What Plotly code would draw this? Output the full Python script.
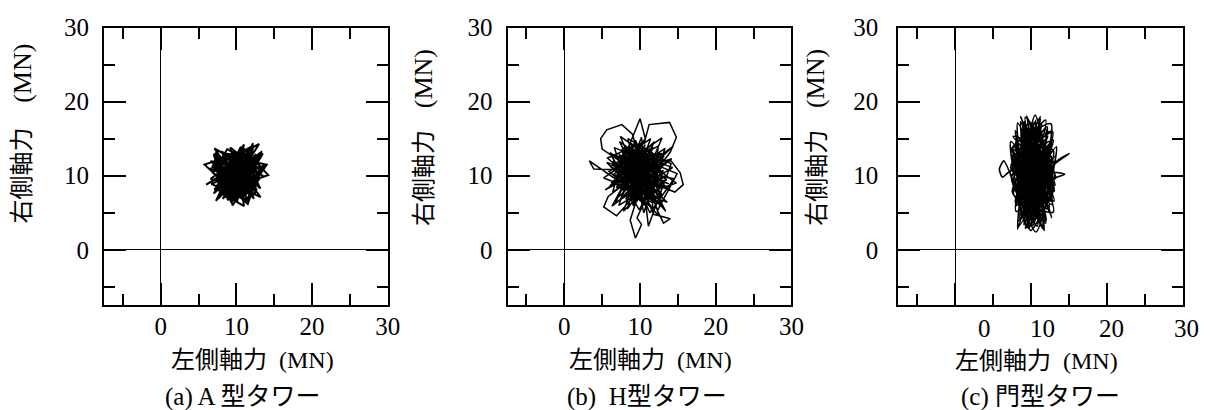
import plotly.graph_objects as go

# ---------------- data ----------------
# (a) A-type tower : left axial force vs right axial force (MN)
a_x = [10.2, 12.8, 8.1, 7.2, 12.5, 11.9, 7.6, 13.1, 9.0, 8.4, 12.9, 7.1, 11.4, 13.4, 8.8, 6.9, 10.9, 12.6, 7.8, 9.6,
       13.2, 7.4, 10.1, 12.1, 6.6, 11.8, 10.6, 7.9, 13.7, 9.3, 7.7, 12.9, 8.6, 11.2, 8.2, 13.0, 6.8, 10.5, 12.2, 7.3,
       9.8, 13.6, 8.0, 11.6, 6.7, 12.4, 9.2, 10.8, 7.5, 13.3, 8.9, 7.0, 12.7, 10.3, 5.8, 11.5, 13.1, 8.3, 9.7, 12.0,
       7.6, 11.0, 14.2, 8.5, 7.2, 12.3, 10.7, 6.0, 13.5, 9.5, 8.1, 12.6, 7.1, 11.3, 14.0, 10.0, 7.3, 12.3, 6.5, 11.7,
       9.0, 13.2, 8.4, 10.9, 7.0, 12.5, 9.9, 6.6, 13.0, 11.1, 8.7, 11.0, 10.4, 7.8, 12.0, 9.4, 11.3, 8.9, 10.6,
       8.0, 12.2, 9.0, 11.5, 7.3, 12.9, 9.4, 10.8, 7.9, 12.3, 8.4, 11.9, 9.1, 10.3, 7.6, 13.0, 8.8, 11.1, 9.6, 12.7,
       7.4, 10.6, 11.4, 8.2, 12.1, 9.9, 10.2, 8.6, 11.8, 9.2, 12.4, 7.9, 10.5, 11.0, 8.7, 12.8, 9.3, 11.6, 8.3, 10.8,
       7.7, 12.0, 9.7, 11.2, 8.5, 10.1, 9.5, 11.4, 8.9, 10.7, 9.0, 11.9, 7.5, 12.6, 8.0, 10.4,
       13.0, 8.6, 12.2, 9.4, 11.0, 7.5, 13.4, 9.9]
a_y = [9.8, 11.9, 7.6, 11.8, 7.4, 13.2, 9.1, 9.6, 6.9, 13.0, 12.4, 8.2, 6.8, 10.8, 13.6, 10.4, 7.0, 12.9, 7.3, 13.3,
       8.3, 12.6, 6.6, 13.5, 9.6, 7.9, 13.9, 8.8, 11.4, 6.4, 12.2, 9.0, 10.9, 12.7, 6.9, 12.1, 11.3, 7.4, 13.7, 7.9,
       12.9, 9.9, 13.3, 6.5, 8.9, 11.2, 13.8, 7.8, 10.1, 12.8, 6.7, 12.9, 8.0, 13.1, 11.5, 6.2, 11.0, 12.4, 7.1, 12.0,
       6.9, 13.6, 10.1, 8.0, 13.1, 6.9, 11.8, 8.8, 13.0, 6.0, 11.6, 10.4, 13.7, 7.5, 11.5, 12.3, 6.6, 14.1, 10.9, 9.2,
       13.0, 7.1, 9.5, 14.0, 7.6, 12.6, 8.3, 12.0, 8.6, 13.0, 7.3, 5.9, 10.0, 10.6, 8.6, 11.4, 10.5, 9.0, 9.3,
       12.5, 8.0, 7.2, 12.9, 9.5, 11.0, 13.1, 6.9, 11.0, 12.3, 7.8, 10.1, 12.2, 7.3, 12.0, 9.4, 8.4, 12.2, 6.8, 11.7,
       8.6, 13.2, 8.2, 10.2, 9.4, 12.6, 7.9, 11.8, 11.3, 8.0, 10.6, 9.7, 12.4, 7.6, 12.9, 8.9, 10.6, 12.6, 8.6, 11.0,
       10.8, 7.3, 12.0, 9.0, 9.9, 11.5, 8.9, 11.7, 10.3, 8.5, 11.0, 12.5, 11.4, 9.7, 7.4, 12.8,
       14.3, 7.0, 14.4, 6.6, 14.2, 8.4, 13.3, 10.2]

# (b) H-type tower
b_x = [9.8, 13.2, 6.4, 8.0, 13.9, 7.2, 11.6, 12.4, 5.9, 11.0, 10.2, 6.8, 14.3, 7.6, 12.1, 8.7, 13.5, 6.2, 10.9, 8.3,
       14.0, 14.8, 13.9, 11.2, 10.6, 5.7, 12.8, 9.4, 6.9, 13.1, 7.8, 11.4, 6.1, 14.6, 15.7, 15.3, 14.1, 8.9, 10.5, 13.3,
       5.4, 12.2, 7.4, 11.8, 14.0, 13.1, 12.3, 14.9, 6.6, 9.1, 12.9, 5.2, 13.6, 8.5, 10.7, 6.3, 14.2, 7.1, 11.3, 9.0,
       7.6, 5.6, 4.8, 5.0, 7.0, 13.8, 5.6, 12.5, 10.1, 7.0, 14.4, 8.2, 6.0, 12.0, 9.6, 10.2, 9.4, 8.7, 11.7, 6.5,
       13.0, 8.8, 10.4, 7.3, 14.8, 9.3, 11.1, 5.8, 5.2, 6.9, 8.4, 12.6, 8.1, 10.6, 13.4, 7.7, 10.0, 10.7, 6.7, 3.3,
       3.9, 6.8, 9.9, 12.3, 8.6, 10.0, 13.7, 7.5, 11.5, 9.2, 6.4, 12.7, 10.3, 8.4, 14.1, 11.1, 10.8, 7.9, 12.9, 9.0,
       11.0, 8.0, 12.0, 9.7, 7.2, 13.5, 8.6, 11.9, 6.0, 10.5, 9.5, 11.6, 8.3, 10.9, 9.1, 12.4, 7.7, 11.3, 14.5, 10.0,
       7.0, 12.8, 8.4, 11.6, 6.8, 13.2, 9.1, 10.8, 7.4, 12.9, 6.5, 11.2, 9.3, 13.0, 7.2, 10.9, 8.0, 12.5, 8.8, 11.7,
       6.9, 13.4, 9.6, 10.3, 7.7, 12.2, 8.3, 11.4, 9.0, 12.6, 7.5, 10.6, 11.0, 8.1, 12.0, 9.5, 7.9, 13.1, 8.6, 11.3,
       10.0, 9.2, 12.3, 8.0, 10.7, 9.4, 11.8, 8.7, 10.4, 9.7, 11.6, 8.5, 12.1, 7.3, 10.2, 9.0, 11.5, 8.2, 12.7, 6.7,
       10.8, 9.9]
b_y = [10.0, 12.6, 7.8, 14.1, 8.0, 12.9, 5.6, 14.0, 10.6, 6.2, 15.2, 6.4, 11.1, 13.6, 6.9, 14.5, 9.4, 9.0, 13.4, 5.5,
       13.2, 15.2, 17.2, 16.9, 14.6, 12.4, 5.9, 14.8, 8.4, 10.7, 5.2, 15.0, 11.2, 7.8, 8.8, 10.4, 12.0, 12.6, 5.0, 13.7,
       8.1, 11.8, 15.3, 4.8, 4.2, 3.6, 5.3, 10.3, 13.8, 6.0, 15.1, 9.7, 6.4, 11.2, 14.2, 5.9, 12.3, 10.0, 7.4, 15.6,
       16.9, 16.2, 15.0, 13.6, 12.2, 8.9, 11.8, 4.6, 12.8, 7.0, 14.0, 9.3, 13.1, 9.6, 4.3, 3.4, 1.6, 4.0, 13.9, 10.2,
       7.3, 13.0, 8.2, 14.6, 9.0, 7.2, 11.4, 7.2, 5.8, 4.6, 6.3, 13.1, 6.8, 10.7, 5.2, 11.9, 17.7, 15.0, 9.6, 12.0,
       10.9, 10.8, 5.4, 10.2, 14.0, 8.7, 12.0, 8.0, 12.3, 9.8, 12.0, 8.3, 6.8, 15.0, 11.6, 3.2, 5.9, 9.0, 11.5, 11.7,
       8.8, 12.2, 6.2, 13.6, 6.0, 10.0, 8.2, 14.6, 8.6, 11.9, 7.8, 9.9, 10.6, 12.6, 8.6, 12.9, 13.2, 5.0, 9.6, 10.5,
       11.5, 7.6, 13.5, 6.4, 8.9, 11.6, 5.9, 13.8, 6.8, 13.0, 11.4, 7.0, 14.2, 9.0, 9.4, 5.8, 12.4, 11.2, 6.6, 12.8,
       10.4, 8.5, 13.2, 6.3, 12.9, 7.0, 8.8, 13.4, 7.6, 10.0, 10.9, 12.1, 7.9, 11.0, 12.6, 6.5, 13.9, 10.4, 7.4, 11.0,
       14.0, 8.9, 8.8, 10.0, 9.2, 11.9, 10.8, 9.6, 13.0, 7.0, 9.0, 12.8, 11.9, 8.3, 10.0, 12.4, 6.8, 7.6, 12.2, 12.6,
       8.6, 11.0]

# (c) portal-type tower
c_x = [10.1, 8.8, 12.0, 7.7, 12.6, 9.6, 10.8, 7.4, 12.4, 8.6, 11.4, 7.9, 13.0, 9.2, 11.9, 7.5, 12.7, 10.4, 8.3, 12.2,
       7.6, 12.9, 9.9, 8.7, 11.6, 7.2, 12.6, 9.0, 11.2, 7.8, 13.2, 9.7, 8.2, 12.5, 7.5, 11.5, 10.0, 8.0, 13.1, 8.9,
       11.8, 7.6, 12.1, 9.4, 7.3, 12.8, 10.5, 8.5, 13.3, 10.6, 6.4, 5.8, 6.2, 7.2, 12.3, 9.1, 11.0, 7.7, 12.9, 8.6,
       11.6, 7.4, 12.6, 9.8, 8.1, 13.1, 9.3, 11.1, 7.5, 12.0, 8.4, 13.4, 15.0, 12.9, 10.2, 7.9, 12.7, 9.5, 8.2, 11.9,
       7.3, 13.0, 9.1, 11.3, 7.8, 13.2, 9.6, 8.7, 12.5, 8.0, 14.4, 12.1, 10.3, 8.6, 12.4, 7.5, 12.8, 9.2, 10.8, 8.1,
       13.0, 10.0, 8.0, 12.2, 9.4, 11.5, 7.4, 12.6, 9.0, 11.2, 8.5, 12.4, 8.2, 11.7, 9.7, 7.6, 12.9, 9.5, 10.7, 9.9,
       11.8, 8.4, 11.4, 9.2, 10.9, 9.6, 10.6, 8.8, 12.0, 10.2, 11.0, 9.3, 10.4, 9.8, 11.5, 8.7, 11.1, 10.1,
       8.6, 12.1, 8.1, 12.6, 9.4, 11.1, 7.8, 12.5, 10.2, 8.9, 12.4, 7.7, 12.8, 9.6, 10.6, 8.0, 12.2, 8.7, 13.0, 9.8,
       11.2, 7.6, 12.5, 9.3, 10.9, 8.2, 12.7, 10.0, 9.1, 11.8, 7.9, 12.9, 9.5, 11.4, 8.3, 12.3, 9.9, 10.7, 8.8, 12.0,
       10.3, 9.2, 11.7, 8.4, 12.6, 9.6, 11.3, 9.0, 11.9, 10.4, 8.5, 12.8, 9.4, 11.1, 9.7, 11.6, 8.9, 10.8, 10.2, 11.5,
       9.5, 10.6, 10.0, 11.2, 9.1, 10.5]
c_y = [10.0, 16.8, 4.0, 13.5, 8.2, 17.6, 3.2, 9.8, 14.6, 4.6, 16.9, 6.4, 11.2, 17.9, 3.6, 11.9, 6.1, 17.2, 3.9, 13.1,
       15.3, 9.0, 2.6, 15.9, 5.1, 10.4, 15.8, 3.4, 18.0, 8.0, 12.6, 4.3, 17.1, 7.0, 12.8, 2.9, 16.2, 5.2, 10.1, 14.2,
       3.9, 9.2, 16.6, 3.0, 14.6, 7.6, 18.2, 6.8, 13.9, 2.4, 12.0, 10.9, 9.8, 10.6, 12.2, 4.8, 16.4, 7.4, 5.1, 18.0,
       8.9, 13.6, 17.0, 3.3, 11.4, 8.7, 16.6, 4.2, 7.9, 15.0, 3.2, 12.0, 13.0, 11.4, 6.0, 16.1, 4.3, 13.4, 2.8, 17.5,
       11.1, 6.6, 15.2, 3.6, 12.5, 9.6, 17.1, 5.6, 14.0, 8.6, 10.2, 10.4, 3.8, 17.3, 5.8, 12.3, 16.0, 2.9, 15.4, 6.0,
       11.8, 4.8, 14.8, 8.0, 18.1, 5.2, 10.0, 13.3, 7.2, 17.6, 4.2, 9.8, 13.2, 2.6, 15.6, 8.9, 14.8, 5.9, 13.0, 8.4,
       12.4, 11.0, 6.9, 12.0, 9.1, 14.3, 5.6, 9.5, 11.1, 16.7, 10.6, 10.2, 12.2, 7.1, 14.1, 13.9, 8.0, 11.5,
       15.5, 5.5, 11.0, 12.5, 4.0, 17.0, 8.6, 14.2, 3.3, 16.4, 7.1, 12.1, 10.6, 2.9, 17.5, 5.9, 15.3, 9.2, 7.9, 16.0,
       4.4, 13.8, 11.7, 6.4, 14.9, 10.0, 9.1, 5.1, 17.3, 6.2, 14.0, 13.4, 3.5, 15.8, 7.2, 10.1, 13.7, 4.9, 12.7, 8.5,
       16.1, 5.3, 13.2, 9.8, 6.6, 14.9, 7.7, 11.2, 16.4, 3.7, 13.1, 11.0, 8.0, 12.8, 6.8, 10.9, 14.4, 8.1, 12.6, 6.0,
       9.0, 15.0, 7.5, 11.4, 10.6, 9.0]

x_tick_vals = [0, 10, 20, 30]
y_tick_vals = [0, 10, 20, 30]
minor_vals = [-5, 5, 15, 25]
c_xlabel_pos = [3.9, 11.5, 20.6, 30.0]   # labels of panel (c) as printed (shifted)
c_xlabel_shift = [0, 0, 0, 3]
c_xlabel_txt = ["0", "10", "20", "30"]

x_title = "左側軸力\u2002(MN)"
y_title_jp = "右側軸力"
y_title_unit = "(MN)"
captions = ["(a) A 型タワー", "(b)  H型タワー", "(c) 門型タワー"]

FONT = "Liberation Serif, 'Noto Sans CJK JP', serif"
FS_TICK = 25
FS_TXT = 24
FS_CAP = 25

fig = go.Figure()
series = [(a_x, a_y, "linear", 2.0), (b_x, b_y, "linear", 1.5), (c_x, c_y, "spline", 1.6)]
for i, (xs, ys, shape, lw) in enumerate(series):
    k = "" if i == 0 else str(i + 1)
    fig.add_trace(go.Scatter(x=xs, y=ys, mode="lines",
                             line=dict(color="black", width=lw, shape=shape, smoothing=0.6),
                             xaxis="x" + k, yaxis="y" + k, showlegend=False, hoverinfo="skip"))

x_doms = [(105 / 1219, 392 / 1219), (513 / 1219, 800 / 1219), (908 / 1219, 1196 / 1219)]
y_dom = (1 - 302 / 410, 1 - 15 / 410)


def axis(dom, anchor, showlabels=True):
    return dict(domain=dom, anchor=anchor, range=[-7.5, 30], tickvals=x_tick_vals,
                ticks="inside", ticklen=22, tickwidth=1.5, tickcolor="black",
                minor=dict(tickvals=minor_vals, ticks="inside", ticklen=11, tickwidth=1.5,
                           tickcolor="black", showgrid=False),
                showline=True, linecolor="black", linewidth=2, mirror="ticks",
                showgrid=False, zeroline=True, zerolinecolor="black", zerolinewidth=1,
                tickfont=dict(family=FONT, size=FS_TICK, color="black"),
                showticklabels=showlabels, fixedrange=True)


layout = dict(width=1219, height=410, margin=dict(l=0, r=0, t=0, b=0),
              paper_bgcolor="white", plot_bgcolor="white", showlegend=False)
for i in range(3):
    k = "" if i == 0 else str(i + 1)
    xa = axis(x_doms[i], "y" + k, showlabels=(i < 2))
    xa["ticklabelstandoff"] = -2
    ya = axis(y_dom, "x" + k)
    ya["tickvals"] = y_tick_vals
    ya["ticklabelstandoff"] = 8 if i < 2 else 13
    layout["xaxis" + k] = xa
    layout["yaxis" + k] = ya
fig.update_layout(**layout)

ann = []
xt_pos = [(255, 358), (658, 358), (1048, 359)]
yt_unit_pos = [(22, 62), (428, 68), (825, 68)]
yt_jp_pos = [(22, 168), (428, 170), (825, 170)]
cap_pos = [(246, 397), (654, 397), (1052, 397)]
txt_font = dict(family=FONT, size=FS_TXT, color="black")
for i in range(3):
    ann.append(dict(text=x_title, x=xt_pos[i][0] / 1219, y=1 - xt_pos[i][1] / 410, xref="paper", yref="paper",
                    showarrow=False, xanchor="center", yanchor="middle", font=txt_font))
    ann.append(dict(text=y_title_unit, x=yt_unit_pos[i][0] / 1219, y=1 - yt_unit_pos[i][1] / 410,
                    xref="paper", yref="paper", showarrow=False, xanchor="center", yanchor="middle",
                    textangle=-90, font=dict(family=FONT, size=26, color="black")))
    ann.append(dict(text=y_title_jp, x=yt_jp_pos[i][0] / 1219, y=1 - yt_jp_pos[i][1] / 410,
                    xref="paper", yref="paper", showarrow=False, xanchor="center", yanchor="middle",
                    textangle=-90, font=txt_font))
    ann.append(dict(text=captions[i], x=cap_pos[i][0] / 1219, y=1 - cap_pos[i][1] / 410, xref="paper", yref="paper",
                    showarrow=False, xanchor="center", yanchor="middle",
                    font=dict(family=FONT, size=FS_CAP, color="black")))
for v, t, s in zip(c_xlabel_pos, c_xlabel_txt, c_xlabel_shift):
    ann.append(dict(text=t, x=v, xshift=s, y=1 - 326 / 410, xref="x3", yref="paper", showarrow=False,
                    xanchor="center", yanchor="middle", font=dict(family=FONT, size=FS_TICK, color="black")))
fig.update_layout(annotations=ann)

fig.write_html("out.html")
